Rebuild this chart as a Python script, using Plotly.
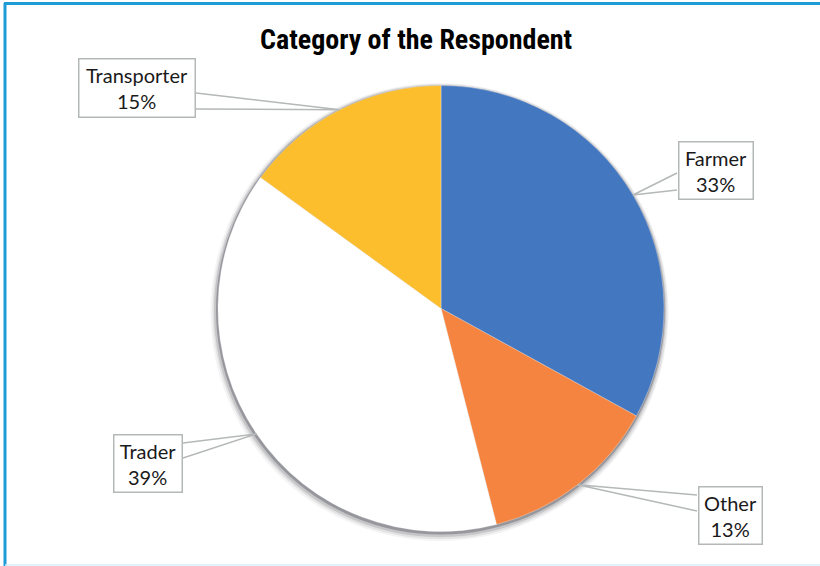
import plotly.graph_objects as go
import math

# Survey data
categories = ["Farmer", "Other", "Trader", "Transporter"]
shares = [33, 13, 39, 15]
colors = ["#4377c0", "#f4843f", "#ffffff", "#fcbe2d"]

W, H = 820, 566
CX, CY, R = 441, 308.5, 223  # pie centre and radius in pixels


def px(x):
    return x / W


def py(y):
    return 1 - y / H


def domain(cx, cy, r):
    return dict(x=[px(cx - r), px(cx + r)], y=[py(cy + r), py(cy - r)])


fig = go.Figure()

# soft drop shadow built from a few translucent discs behind the pie
for grow, dx, dy, alpha in [(6, -1.5, 3.5, 0.05), (4.5, -1, 3, 0.09), (3, -1, 2.5, 0.15),
                            (1.5, -0.5, 1.5, 0.30)]:
    fig.add_trace(go.Pie(
        values=[1], labels=["shadow"], marker=dict(colors=[f"rgba(40,40,55,{alpha})"]),
        domain=domain(CX + dx, CY + dy, R + grow), textinfo="none",
        hoverinfo="skip", showlegend=False, sort=False,
    ))

fig.add_trace(go.Pie(
    labels=categories, values=shares, sort=False, direction="clockwise",
    rotation=0, marker=dict(colors=colors, line=dict(color="rgba(255,255,255,0.6)", width=0.5)),
    domain=domain(CX, CY, R), textinfo="none", showlegend=False,
))

# callout boxes: (left, top, right, bottom) and the two points where the pointer leaves the box
boxes = {
    "Farmer": ((677, 141, 754, 201), (677, 173), (677, 190)),
    "Other": ((697, 485, 763, 545), (697, 495), (697, 511)),
    "Trader": ((112, 433, 183, 493), (183, 443), (183, 458)),
    "Transporter": ((77, 57, 196, 118), (196, 93), (196, 109)),
}

total = sum(shares)
shapes = []
annotations = []
cum = 0
for name, val in zip(categories, shares):
    mid = (cum + val / 2) / total * 2 * math.pi
    cum += val
    tx = CX + R * math.sin(mid)
    ty = CY - R * math.cos(mid)
    (l, t, r, b), p1, p2 = boxes[name]
    shapes.append(dict(
        type="path", xref="paper", yref="paper",
        path=f"M {px(p1[0])} {py(p1[1])} L {px(tx)} {py(ty)} L {px(p2[0])} {py(p2[1])}",
        line=dict(color="#b5b8b8", width=1.5),
    ))
    annotations.append(dict(
        x=px((l + r) / 2), y=py((t + b) / 2), xref="paper", yref="paper",
        xanchor="center", yanchor="middle", showarrow=False,
        text=f"{name}<br>{round(val / total * 100)}%",
        font=dict(family="Lato, Carlito, Open Sans, sans-serif", size=20, color="#1a1a1a"),
        bgcolor="white", bordercolor="#b5b8b8", borderwidth=1.5,
        width=r - l - 4, height=b - t - 4, borderpad=0, align="center",
    ))

# chart frame
shapes += [
    dict(type="line", xref="paper", yref="paper", x0=px(4), x1=1, y0=py(3.5), y1=py(3.5),
         line=dict(color="#1d9cd6", width=3)),
    dict(type="line", xref="paper", yref="paper", x0=px(5), x1=px(5), y0=py(3), y1=0,
         line=dict(color="#1d9cd6", width=3)),
    dict(type="line", xref="paper", yref="paper", x0=px(5), x1=1, y0=py(565), y1=py(565),
         line=dict(color="#d6eef8", width=1.5)),
]

annotations.append(dict(
    x=px(416), y=py(39), xref="paper", yref="paper", xanchor="center", yanchor="middle",
    showarrow=False, text="<b>Category of the Respondent</b>",
    font=dict(family="Liberation Sans Narrow, Roboto Condensed, Arial Narrow, sans-serif",
              size=28, color="#000000"),
))

fig.update_layout(
    width=W, height=H, margin=dict(l=0, r=0, t=0, b=0),
    paper_bgcolor="white", plot_bgcolor="white",
    shapes=shapes, annotations=annotations, showlegend=False,
)

fig.write_html("out.html")
